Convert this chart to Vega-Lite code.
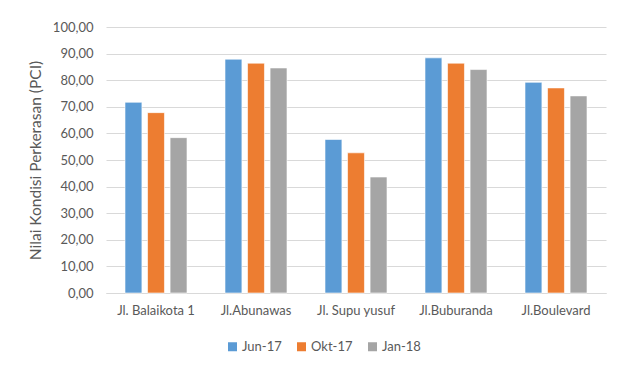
{
  "$schema": "https://vega.github.io/schema/vega-lite/v6.json",
  "autosize": {"type": "none"},
  "width": 500,
  "height": 266,
  "padding": {"left": 106, "top": 27, "right": 12, "bottom": 75},
  "background": "white",
  "data": {
    "values": [
      {"jalan": "Jl. Balaikota 1", "periode": "Jun-17", "pci": 71.7},
      {"jalan": "Jl. Balaikota 1", "periode": "Okt-17", "pci": 67.8},
      {"jalan": "Jl. Balaikota 1", "periode": "Jan-18", "pci": 58.4},
      {"jalan": "Jl.Abunawas", "periode": "Jun-17", "pci": 87.9},
      {"jalan": "Jl.Abunawas", "periode": "Okt-17", "pci": 86.4},
      {"jalan": "Jl.Abunawas", "periode": "Jan-18", "pci": 84.6},
      {"jalan": "Jl. Supu yusuf", "periode": "Jun-17", "pci": 57.7},
      {"jalan": "Jl. Supu yusuf", "periode": "Okt-17", "pci": 52.7},
      {"jalan": "Jl. Supu yusuf", "periode": "Jan-18", "pci": 43.6},
      {"jalan": "Jl.Buburanda", "periode": "Jun-17", "pci": 88.4},
      {"jalan": "Jl.Buburanda", "periode": "Okt-17", "pci": 86.4},
      {"jalan": "Jl.Buburanda", "periode": "Jan-18", "pci": 84.0},
      {"jalan": "Jl.Boulevard", "periode": "Jun-17", "pci": 79.2},
      {"jalan": "Jl.Boulevard", "periode": "Okt-17", "pci": 77.1},
      {"jalan": "Jl.Boulevard", "periode": "Jan-18", "pci": 74.1}
    ]
  },
  "mark": {"type": "bar", "stroke": "white", "strokeWidth": 0.6},
  "encoding": {
    "x": {
      "field": "jalan",
      "type": "nominal",
      "sort": null,
      "scale": {"paddingInner": 0.38, "paddingOuter": 0.19},
      "axis": {
        "title": null,
        "labelAngle": 0,
        "labelPadding": 11,
        "ticks": false,
        "domain": true,
        "domainColor": "#d9d9d9",
        "domainWidth": 1
      }
    },
    "xOffset": {
      "field": "periode",
      "type": "nominal",
      "sort": ["Jun-17", "Okt-17", "Jan-18"],
      "scale": {"paddingInner": 0.25, "paddingOuter": 0}
    },
    "y": {
      "field": "pci",
      "type": "quantitative",
      "scale": {"domain": [0, 100], "nice": false},
      "axis": {
        "title": "Nilai Kondisi Perkerasan (PCI)",
        "titlePadding": 9,
        "titleFontSize": 15.5,
        "values": [0, 10, 20, 30, 40, 50, 60, 70, 80, 90, 100],
        "labelExpr": "replace(format(datum.value, '.2f'), '.', ',')",
        "ticks": false,
        "domain": false,
        "labelPadding": 13,
        "grid": true,
        "gridColor": "#d9d9d9",
        "gridWidth": 1
      }
    },
    "color": {
      "field": "periode",
      "type": "nominal",
      "sort": ["Jun-17", "Okt-17", "Jan-18"],
      "scale": {"domain": ["Jun-17", "Okt-17", "Jan-18"], "range": ["#5b9bd5", "#ed7d31", "#a5a5a5"]},
      "legend": {
        "title": null,
        "orient": "none",
        "direction": "horizontal",
        "legendX": 120,
        "legendY": 313,
        "symbolType": "square",
        "symbolSize": 81,
        "symbolStrokeWidth": 0,
        "labelOffset": 3,
        "columnPadding": 13
      }
    }
  },
  "config": {
    "view": {"stroke": null},
    "font": "Lato",
    "axis": {
      "labelFont": "Lato",
      "labelFontSize": 13,
      "labelColor": "#595959",
      "titleFont": "Lato",
      "titleFontSize": 13,
      "titleFontWeight": "normal",
      "titleColor": "#595959"
    },
    "legend": {
      "labelFont": "Lato",
      "labelFontSize": 13,
      "labelColor": "#595959"
    }
  }
}
